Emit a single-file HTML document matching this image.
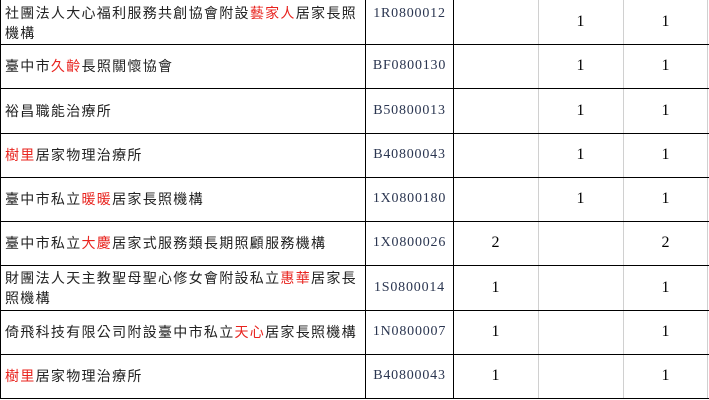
<!DOCTYPE html>
<html><head><meta charset="utf-8"><style>
html,body{margin:0;padding:0;background:#fff;width:709px;height:400px;overflow:hidden;position:relative}
.h{position:absolute;left:0;width:709px;height:1px;background:#000}
.vl{position:absolute;top:0;width:1px;height:399px;background:#000}
.vg{position:absolute;top:0;width:1px;height:399px;background:#d0d0d0}
.cell{position:absolute;display:flex;align-items:center}
.n{font-family:"Liberation Sans","Noto Sans CJK TC",sans-serif;font-size:14px;letter-spacing:1.3px;color:#222;line-height:20px;left:5px;width:360px}
.c{font-family:"Liberation Serif",serif;font-size:14px;letter-spacing:0.8px;color:#2a3550;left:366px;width:87px;justify-content:center}
.v{font-family:"Liberation Serif",serif;font-size:16px;color:#000;justify-content:center;width:85px}
.r{color:#e8231e}
</style></head><body>
<div class="vl" style="left:0"></div>
<div class="vl" style="left:365px"></div>
<div class="vl" style="left:453px"></div>
<div class="vg" style="left:538px"></div>
<div class="vg" style="left:623px"></div>
<div class="vg" style="left:707px"></div>
<div class="h" style="top:44px"></div>
<div class="h" style="top:88px"></div>
<div class="h" style="top:133px"></div>
<div class="h" style="top:177px"></div>
<div class="h" style="top:221px"></div>
<div class="h" style="top:265px"></div>
<div class="h" style="top:310px"></div>
<div class="h" style="top:354px"></div>
<div class="h" style="top:398px"></div>

<div class="cell n" style="top:3px;height:40px;align-items:flex-start"><div>社團法人大心福利服務共創協會附設<span class="r">藝家人</span>居家長照機構</div></div>
<div class="cell c" style="top:4px;height:20px">1R0800012</div>
<div class="cell v" style="left:538px;top:0;height:44px">1</div><div class="cell v" style="left:623px;top:0;height:44px">1</div>

<div class="cell n" style="top:44px;height:44px"><div>臺中市<span class="r">久齡</span>長照關懷協會</div></div>
<div class="cell c" style="top:44px;height:44px">BF0800130</div>
<div class="cell v" style="left:538px;top:44px;height:44px">1</div><div class="cell v" style="left:623px;top:44px;height:44px">1</div>

<div class="cell n" style="top:88px;height:45px"><div>裕昌職能治療所</div></div>
<div class="cell c" style="top:88px;height:45px">B50800013</div>
<div class="cell v" style="left:538px;top:88px;height:45px">1</div><div class="cell v" style="left:623px;top:88px;height:45px">1</div>

<div class="cell n" style="top:133px;height:44px"><div><span class="r">樹里</span>居家物理治療所</div></div>
<div class="cell c" style="top:133px;height:44px">B40800043</div>
<div class="cell v" style="left:538px;top:133px;height:44px">1</div><div class="cell v" style="left:623px;top:133px;height:44px">1</div>

<div class="cell n" style="top:177px;height:44px"><div>臺中市私立<span class="r">暖暖</span>居家長照機構</div></div>
<div class="cell c" style="top:177px;height:44px">1X0800180</div>
<div class="cell v" style="left:538px;top:177px;height:44px">1</div><div class="cell v" style="left:623px;top:177px;height:44px">1</div>

<div class="cell n" style="top:221px;height:44px"><div>臺中市私立<span class="r">大慶</span>居家式服務類長期照顧服務機構</div></div>
<div class="cell c" style="top:221px;height:44px">1X0800026</div>
<div class="cell v" style="left:453px;top:221px;height:44px">2</div><div class="cell v" style="left:623px;top:221px;height:44px">2</div>

<div class="cell n" style="top:265px;height:45px"><div>財團法人天主教聖母聖心修女會附設私立<span class="r">惠華</span>居家長照機構</div></div>
<div class="cell c" style="top:265px;height:45px">1S0800014</div>
<div class="cell v" style="left:453px;top:265px;height:45px">1</div><div class="cell v" style="left:623px;top:265px;height:45px">1</div>

<div class="cell n" style="top:310px;height:44px"><div>倚飛科技有限公司附設臺中市私立<span class="r">天心</span>居家長照機構</div></div>
<div class="cell c" style="top:310px;height:44px">1N0800007</div>
<div class="cell v" style="left:453px;top:310px;height:44px">1</div><div class="cell v" style="left:623px;top:310px;height:44px">1</div>

<div class="cell n" style="top:354px;height:44px"><div><span class="r">樹里</span>居家物理治療所</div></div>
<div class="cell c" style="top:354px;height:44px">B40800043</div>
<div class="cell v" style="left:453px;top:354px;height:44px">1</div><div class="cell v" style="left:623px;top:354px;height:44px">1</div>
</body></html>
